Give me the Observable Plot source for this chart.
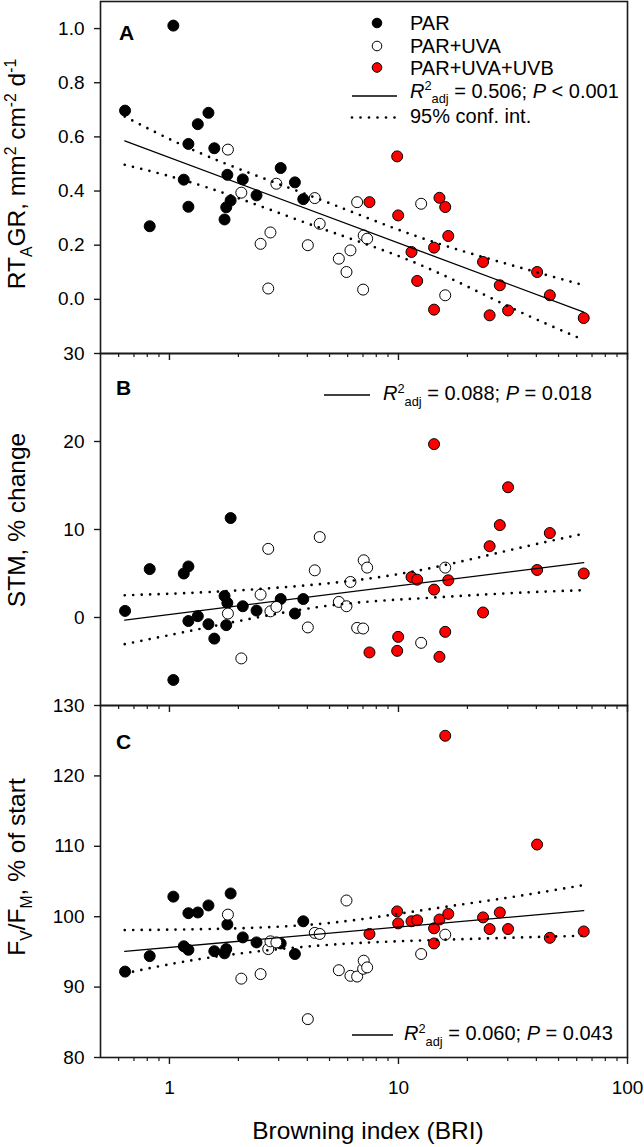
<!DOCTYPE html>
<html>
<head>
<meta charset="utf-8">
<script src="https://cdn.jsdelivr.net/npm/d3@7"></script>
<script src="https://cdn.jsdelivr.net/npm/@observablehq/plot@0.6"></script>
<style>
  body { margin: 0; background: #fff; }
  #wrap { position: relative; width: 644px; height: 1147px; font-family: "Liberation Sans", Arial, sans-serif; }
  #wrap svg { position: absolute; left: 0; overflow: visible; }
  #wrap text { white-space: pre; }
</style>
</head>
<body>
<div id="wrap"></div>
<script>
// ---------- data ----------
const GROUPS = ["PAR", "PAR+UVA", "PAR+UVA+UVB"];
const GROUP_FILLS = ["#000000", "#ffffff", "#ff0000"];

const BRI_PAR   = [0.64, 0.82, 1.04, 1.155, 1.21, 1.21, 1.33, 1.48, 1.57, 1.74, 1.77, 1.79, 1.85, 2.09, 2.40, 3.06, 3.53, 3.84];
const RTAGR_PAR = [0.697, 0.27, 1.011, 0.442, 0.574, 0.342, 0.647, 0.689, 0.558, 0.295, 0.34, 0.46, 0.365, 0.443, 0.384, 0.485, 0.432, 0.37];
const STM_PAR   = [0.75, 5.5, -7.1, 5.0, 5.8, -0.4, 0.15, -0.76, -2.4, 2.45, -0.87, 1.66, 11.3, 1.28, 0.79, 2.1, 0.45, 2.1];
const FVFM_PAR  = [92.2, 94.4, 102.85, 95.8, 95.3, 100.5, 100.6, 101.6, 95.1, 94.8, 95.4, 98.9, 103.3, 97.06, 96.35, 96.2, 94.7, 99.35];

const BRI_UVA   = [1.80, 2.06, 2.50, 2.70, 2.76, 2.93, 4.02, 4.31, 4.53, 5.49, 5.93, 6.17, 6.60, 7.01, 7.05, 7.30, 12.56, 16.0];
const RTAGR_UVA = [0.553, 0.394, 0.205, 0.04, 0.247, 0.427, 0.2, 0.374, 0.279, 0.15, 0.101, 0.181, 0.359, 0.036, 0.236, 0.224, 0.353, 0.015];
const STM_UVA   = [0.45, -4.65, 2.6, 7.8, 0.7, 1.2, -1.13, 5.36, 9.14, 1.77, 1.28, 4.04, -1.18, -1.25, 6.5, 5.67, -2.88, 5.67];
const FVFM_UVA  = [100.3, 91.2, 91.85, 95.4, 96.5, 96.35, 85.45, 97.7, 97.55, 92.4, 102.3, 91.6, 91.5, 92.6, 93.75, 92.8, 94.7, 97.45];

const BRI_UVB   = [7.47, 9.87, 9.97, 11.4, 12.07, 14.3, 14.3, 15.1, 16.0, 16.5, 23.4, 25.0, 27.7, 30.1, 40.3, 45.8, 64.4];
const RTAGR_UVB = [0.359, 0.528, 0.31, 0.175, 0.068, 0.191, -0.038, 0.375, 0.341, 0.234, 0.138, -0.059, 0.052, -0.041, 0.101, 0.015, -0.069];
const STM_UVB   = [-3.97, -3.79, -2.2, 4.6, 4.3, 19.7, 3.17, -4.47, -1.63, 4.23, 0.57, 8.1, 10.5, 14.8, 5.4, 9.6, 5.0];
const FVFM_UVB  = [97.55, 100.75, 99.05, 99.35, 99.5, 98.35, 96.2, 99.6, 125.7, 100.4, 99.9, 98.25, 100.6, 98.25, 110.25, 97.0, 97.9];

// regression lines
const FIT_BRI   = [0.638, 64.4];
const RTAGR_FIT = [0.585, -0.047];
const STM_FIT   = [-0.3, 6.24];
const FVFM_FIT  = [95.07, 100.86];

// 95% confidence bands
const CI_BRI      = [0.638, 1.5, 4.5, 12, 30, 64.4];
const RTAGR_CI_UP = [0.675, 0.525, 0.37, 0.233, 0.13, 0.052];
const RTAGR_CI_LO = [0.497, 0.41, 0.265, 0.133, -0.025, -0.15];
const STM_CI_UP   = [2.53, 2.9, 3.78, 5.3, 7.6, 9.52];
const STM_CI_LO   = [-3.03, -1.07, 1.2, 2.15, 2.75, 3.1];
const FVFM_CI_UP  = [98.1, 98.25, 98.97, 100.8, 102.7, 104.5];
const FVFM_CI_LO  = [91.95, 94.2, 95.9, 96.6, 97.0, 97.3];

// axes
const X_DOMAIN = [0.5, 100];
const X_MAJOR = [1, 10, 100];
const X_MINOR = [0.6, 0.7, 0.8, 0.9, 2, 3, 4, 5, 6, 7, 8, 9, 20, 30, 40, 50, 60, 70, 80, 90];
const RTAGR_TICKS = [0, 0.2, 0.4, 0.6, 0.8, 1.0];
const STM_TICKS = [0, 10, 20, 30];
const FVFM_TICKS = [80, 90, 100, 110, 120, 130];

// ---------- build rows ----------
const points = [];
[[BRI_PAR, RTAGR_PAR, STM_PAR, FVFM_PAR],
 [BRI_UVA, RTAGR_UVA, STM_UVA, FVFM_UVA],
 [BRI_UVB, RTAGR_UVB, STM_UVB, FVFM_UVB]].forEach((arr, g) => {
  arr[0].forEach((b, i) => points.push({group: GROUPS[g], bri: b, rtagr: arr[1][i], stm: arr[2][i], fvfm: arr[3][i]}));
});
const toRows = (xs, ys) => xs.map((b, i) => ({bri: b, v: ys[i]}));

const FONT = '"Liberation Sans", Arial, sans-serif';
const wrap = document.getElementById("wrap");

function panel({key, fit, up, lo, yDomain, yTicks, yFormat, height, marginTop, marginBottom, top, xLabels}) {
  const marks = [
    Plot.dot(points, {x: "bri", y: key, r: 5.5, fill: "group", stroke: "black", strokeWidth: 1}),
    Plot.line(toRows(CI_BRI, up), {x: "bri", y: "v", curve: "natural", stroke: "black", strokeWidth: 2.7, strokeDasharray: "0 8.5", strokeLinecap: "round"}),
    Plot.line(toRows(CI_BRI, lo), {x: "bri", y: "v", curve: "natural", stroke: "black", strokeWidth: 2.7, strokeDasharray: "0 8.5", strokeLinecap: "round"}),
    Plot.line(toRows(FIT_BRI, fit), {x: "bri", y: "v", stroke: "black", strokeWidth: 1.3}),
    Plot.frame({stroke: "#1a1a1a", strokeWidth: 1.6}),
    Plot.axisY({ticks: yTicks, tickSize: 6, tickPadding: 10, tickFormat: yFormat, label: null, fontSize: 19, stroke: "#1a1a1a", strokeWidth: 1.4}),
    Plot.axisX({ticks: X_MAJOR, tickSize: 7, tickFormat: () => "", label: null, stroke: "#1a1a1a", strokeWidth: 1.4}),
    Plot.axisX({ticks: X_MINOR, tickSize: 4, tickFormat: () => "", label: null, stroke: "#1a1a1a", strokeWidth: 1.2})
  ];
  if (xLabels) {
    marks.push(Plot.axisX({ticks: X_MAJOR, tickSize: 0, tickPadding: 22.5, tickFormat: d => String(d), label: null, fontSize: 19}));
  }
  const svg = Plot.plot({
    width: 644, height, marginLeft: 100, marginRight: 17, marginTop, marginBottom,
    x: {type: "log", domain: X_DOMAIN},
    y: {domain: yDomain},
    color: {domain: GROUPS, range: GROUP_FILLS},
    style: {fontFamily: FONT, fontSize: "19px", overflow: "visible", background: "transparent", color: "black"},
    marks
  });
  svg.style.top = top + "px";
  wrap.appendChild(svg);
}

panel({key: "rtagr", fit: RTAGR_FIT, up: RTAGR_CI_UP, lo: RTAGR_CI_LO, yDomain: [-0.2, 1.1], yTicks: RTAGR_TICKS, yFormat: d3.format(".1f"), height: 353, marginTop: 1, marginBottom: 0, top: 0});
panel({key: "stm", fit: STM_FIT, up: STM_CI_UP, lo: STM_CI_LO, yDomain: [-10, 30], yTicks: STM_TICKS, yFormat: d3.format("d"), height: 352, marginTop: 0, marginBottom: 0, top: 353});
panel({key: "fvfm", fit: FVFM_FIT, up: FVFM_CI_UP, lo: FVFM_CI_LO, yDomain: [80, 130], yTicks: FVFM_TICKS, yFormat: d3.format("d"), height: 442, marginTop: 0, marginBottom: 90, top: 705, xLabels: true});

// ---------- overlay: titles, legend, annotations ----------
const over = d3.select(wrap).append("svg")
  .attr("width", 644).attr("height", 1147).style("top", "0px")
  .attr("font-family", FONT);

function rich(x, y, parts, {size = 20, anchor = "start", rotate = false, weight = null} = {}) {
  const t = over.append("text").attr("font-size", size).attr("text-anchor", anchor).attr("fill", "black");
  if (weight) t.attr("font-weight", weight);
  if (rotate) t.attr("transform", `translate(${x},${y}) rotate(-90)`);
  else t.attr("x", x).attr("y", y);
  let shift = 0;
  for (const p of parts) {
    const ts = t.append("tspan").text(p.t);
    const target = p.sub ? size * 0.28 : p.sup ? -size * 0.36 : 0;
    if (target !== shift) ts.attr("dy", target - shift);
    shift = target;
    if (p.sub || p.sup) ts.attr("font-size", size * 0.64);
    if (p.it) ts.attr("font-style", "italic");
  }
  return t;
}

// y-axis titles
rich(25, 174, [{t: "RT"}, {t: "A", sub: true}, {t: "GR, mm"}, {t: "2", sup: true}, {t: " cm"}, {t: "-2", sup: true}, {t: " d"}, {t: "-1", sup: true}], {size: 24.5, anchor: "middle", rotate: true});
rich(25, 520, [{t: "STM, % change"}], {size: 24.5, anchor: "middle", rotate: true});
rich(25, 867, [{t: "F"}, {t: "V", sub: true}, {t: "/F"}, {t: "M", sub: true}, {t: ", % of start"}], {size: 24.5, anchor: "middle", rotate: true});
// x-axis title
rich(368, 1139, [{t: "Browning index (BRI)"}], {size: 24.5, anchor: "middle"});

// panel letters
rich(119, 40, [{t: "A"}], {size: 21, weight: "bold"});
rich(116, 395, [{t: "B"}], {size: 21, weight: "bold"});
rich(116, 749, [{t: "C"}], {size: 21, weight: "bold"});

// legend (panel A)
const legendY = [23, 46, 67.5];
GROUPS.forEach((g, i) => {
  over.append("circle").attr("cx", 377).attr("cy", legendY[i]).attr("r", 4.8)
    .attr("fill", GROUP_FILLS[i]).attr("stroke", "black").attr("stroke-width", 1);
  rich(410, legendY[i] + 7, [{t: g}], {size: 20});
});
over.append("line").attr("x1", 352).attr("x2", 397).attr("y1", 96).attr("y2", 96).attr("stroke", "black").attr("stroke-width", 1.3);
rich(410, 97.5, [{t: "R", it: true}, {t: "2", sup: true}, {t: "adj", sub: true}, {t: " = 0.506; "}, {t: "P", it: true}, {t: " < 0.001"}], {size: 20});
over.append("line").attr("x1", 352).attr("x2", 397).attr("y1", 117.5).attr("y2", 117.5).attr("stroke", "black")
  .attr("stroke-width", 2.7).attr("stroke-dasharray", "0 8.5").attr("stroke-linecap", "round");
rich(410, 122.5, [{t: "95% conf. int."}], {size: 20});

// panel B annotation
over.append("line").attr("x1", 324).attr("x2", 370).attr("y1", 395).attr("y2", 395).attr("stroke", "black").attr("stroke-width", 1.3);
rich(383, 400, [{t: "R", it: true}, {t: "2", sup: true}, {t: "adj", sub: true}, {t: " = 0.088; "}, {t: "P", it: true}, {t: " = 0.018"}], {size: 20});

// panel C annotation
over.append("line").attr("x1", 352).attr("x2", 393).attr("y1", 1035).attr("y2", 1035).attr("stroke", "black").attr("stroke-width", 1.3);
rich(404, 1040, [{t: "R", it: true}, {t: "2", sup: true}, {t: "adj", sub: true}, {t: " = 0.060; "}, {t: "P", it: true}, {t: " = 0.043"}], {size: 20});
</script>
</body>
</html>
